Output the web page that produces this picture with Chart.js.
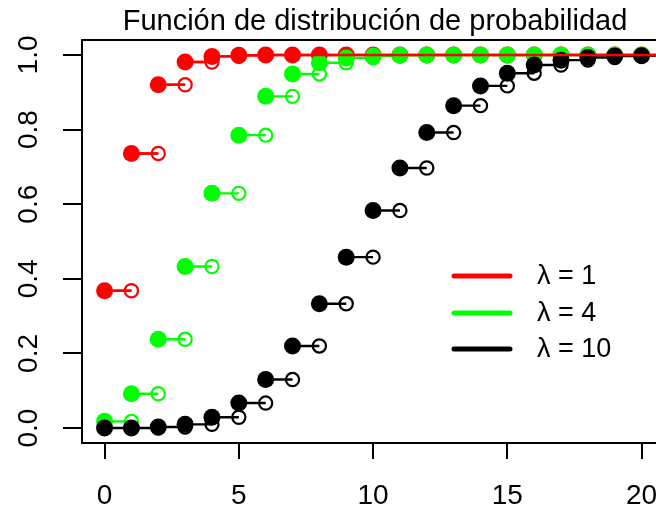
<!DOCTYPE html>
<html>
<head>
<meta charset="utf-8">
<script src="https://cdn.jsdelivr.net/npm/chart.js@4/dist/chart.umd.min.js"></script>
<style>
  html, body { margin: 0; padding: 0; background: #fff; overflow: hidden; }
  #wrap { width: 656px; height: 510px; overflow: hidden; position: relative; }
  #c { position: absolute; left: 0; top: 0; }
</style>
</head>
<body>
<div id="wrap"><canvas id="c" width="720" height="510"></canvas></div>
<script>
// Poisson cumulative distribution F(k) for k = 0..20
const kValues = [0, 1, 2, 3, 4, 5, 6, 7, 8, 9, 10, 11, 12, 13, 14, 15, 16, 17, 18, 19, 20];
const cdfLambda1 = [0.368, 0.736, 0.920, 0.981, 0.996, 0.999, 1.000, 1.000, 1.000, 1.000, 1.000,
                    1.000, 1.000, 1.000, 1.000, 1.000, 1.000, 1.000, 1.000, 1.000, 1.000];
const cdfLambda4 = [0.018, 0.092, 0.238, 0.433, 0.629, 0.785, 0.889, 0.949, 0.979, 0.992, 0.997,
                    0.999, 1.000, 1.000, 1.000, 1.000, 1.000, 1.000, 1.000, 1.000, 1.000];
const cdfLambda10 = [0.000, 0.000, 0.003, 0.010, 0.029, 0.067, 0.130, 0.220, 0.333, 0.458, 0.583,
                     0.697, 0.792, 0.864, 0.917, 0.951, 0.973, 0.986, 0.993, 0.997, 0.998];
const xTicks = [0, 5, 10, 15, 20];
const yTicks = [0, 0.2, 0.4, 0.6, 0.8, 1.0];
const titleText = 'Función de distribución de probabilidad';
const legendLabels = ['λ = 1', 'λ = 4', 'λ = 10'];
const seriesColors = ['#ff0000', '#00ff00', '#000000'];

const FONT = '"Liberation Sans", Arial, sans-serif';

// Each step k becomes: closed point at k, open point at k+1, then a gap.
function stepData(cdf) {
  const out = [];
  kValues.forEach((k, i) => {
    out.push({ x: k, y: cdf[i] });
    out.push({ x: k + 1, y: cdf[i] });
    out.push({ x: k + 1, y: null });
  });
  return out;
}

function stepDataset(cdf, color, order, withPoints) {
  return {
    data: stepData(cdf),
    borderColor: color,
    borderWidth: 2.4,
    spanGaps: false,
    tension: 0,
    order: order,
    pointRadius: ctx => !withPoints ? 0 : (ctx.dataIndex % 3 === 0 ? 8.5 : (ctx.dataIndex % 3 === 1 ? 6.6 : 0)),
    pointBackgroundColor: ctx => ctx.dataIndex % 3 === 0 ? color : 'rgba(0,0,0,0)',
    pointBorderColor: color,
    pointBorderWidth: ctx => ctx.dataIndex % 3 === 0 ? 0 : 2.2,
    pointHoverRadius: 0
  };
}

const decorations = {
  id: 'decorations',
  afterDraw(chart) {
    const { ctx, chartArea: a, scales } = chart;
    ctx.save();
    // plot frame
    ctx.strokeStyle = '#000';
    ctx.lineWidth = 2;
    ctx.strokeRect(a.left, a.top, a.right - a.left, a.bottom - a.top);

    // title
    ctx.fillStyle = '#000';
    ctx.font = '29px ' + FONT;
    ctx.textAlign = 'center';
    ctx.textBaseline = 'alphabetic';
    ctx.fillText(titleText, 375, 30);

    // rotated y tick labels
    ctx.font = '28px ' + FONT;
    ctx.textAlign = 'center';
    ctx.textBaseline = 'middle';
    yTicks.forEach(v => {
      const y = scales.y.getPixelForValue(v);
      ctx.save();
      ctx.translate(29, y);
      ctx.rotate(-Math.PI / 2);
      ctx.fillText(v.toFixed(1), 0, 0);
      ctx.restore();
    });

    // legend
    const rows = [276, 313, 349];
    ctx.lineCap = 'round';
    ctx.lineWidth = 5;
    ctx.textAlign = 'left';
    ctx.font = '27px ' + FONT;
    legendLabels.forEach((lab, i) => {
      ctx.strokeStyle = seriesColors[i];
      ctx.beginPath();
      ctx.moveTo(454, rows[i]);
      ctx.lineTo(510, rows[i]);
      ctx.stroke();
      ctx.fillStyle = '#000';
      ctx.fillText(lab, 537, rows[i] + 1);
    });
    ctx.restore();
  }
};

new Chart(document.getElementById('c'), {
  type: 'line',
  data: {
    datasets: [
      stepDataset(cdfLambda1, seriesColors[0], 3, true),
      stepDataset(cdfLambda4, seriesColors[1], 2, true),
      stepDataset(cdfLambda10, seriesColors[2], 1, true),
      stepDataset(cdfLambda1, seriesColors[0], 0, false)
    ]
  },
  options: {
    responsive: false,
    animation: false,
    layout: { padding: { left: 0, right: 29, top: 40, bottom: 0 } },
    plugins: { legend: { display: false }, tooltip: { enabled: false }, title: { display: false } },
    scales: {
      x: {
        type: 'linear',
        min: -0.84,
        max: 21.84,
        afterBuildTicks: s => { s.ticks = xTicks.map(v => ({ value: v })); },
        afterFit: s => { s.height = 67; },
        ticks: {
          color: '#000',
          font: { family: FONT, size: 28 },
          padding: 20,
          maxRotation: 0,
          callback: v => String(v)
        },
        grid: { drawOnChartArea: false, drawTicks: true, tickLength: 16, color: '#000', lineWidth: 2 },
        border: { display: false }
      },
      y: {
        type: 'linear',
        min: -0.04,
        max: 1.04,
        afterBuildTicks: s => { s.ticks = yTicks.map(v => ({ value: v })); },
        afterFit: s => { s.width = 82; },
        ticks: { display: false },
        grid: { drawOnChartArea: false, drawTicks: true, tickLength: 19, color: '#000', lineWidth: 2 },
        border: { display: false }
      }
    }
  },
  plugins: [decorations]
});
</script>
</body>
</html>
